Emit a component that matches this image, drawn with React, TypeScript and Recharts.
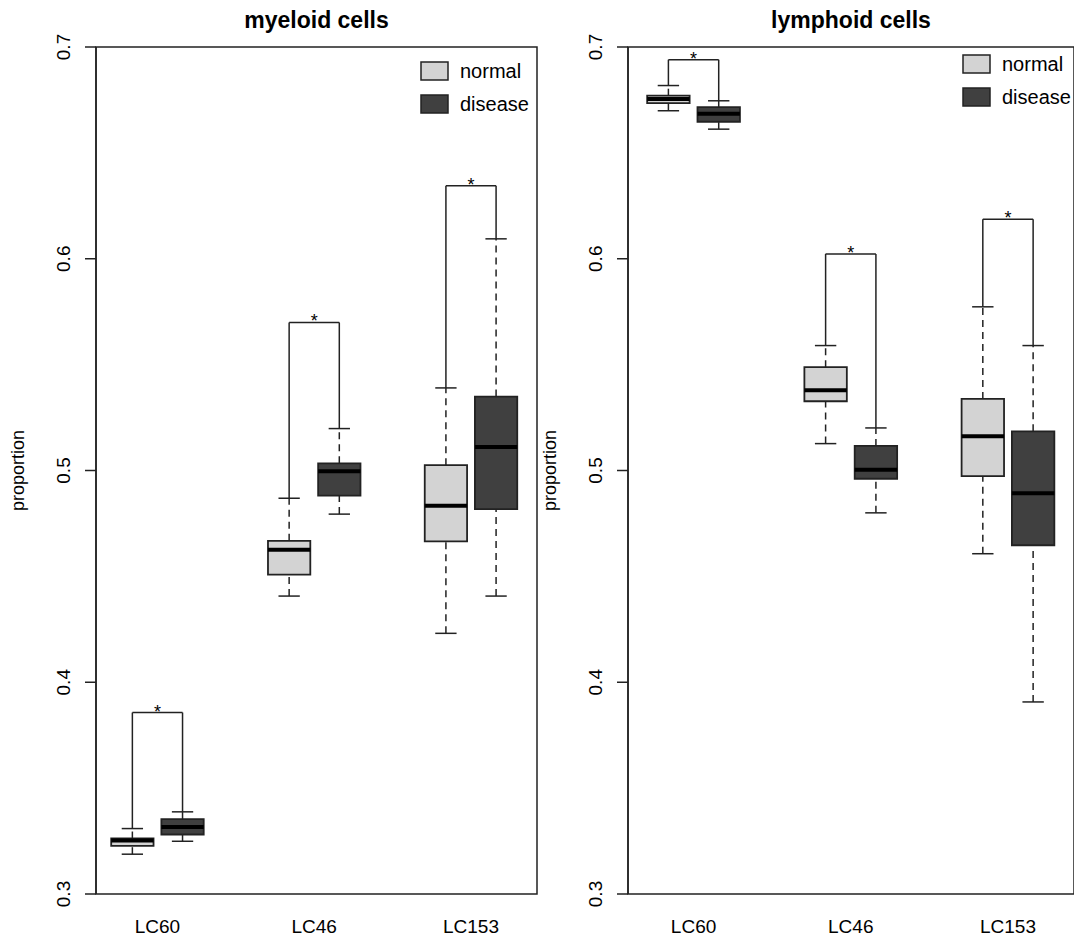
import React from "react";
import {
  ComposedChart,
  XAxis,
  YAxis,
  ReferenceArea,
  ReferenceLine,
  Scatter,
  Legend,
} from "recharts";

const FONT = "'Liberation Sans', Arial, sans-serif";

const groups = ["LC60", "LC46", "LC153"];
const conditions = ["normal", "disease"];
const conditionFills = ["#d3d3d3", "#404040"];
const yTicks = [0.3, 0.4, 0.5, 0.6, 0.7];

// each row: [lower whisker, Q1, median, Q3, upper whisker]
const myeloidNormal = [
  [0.3188, 0.3227, 0.3253, 0.3262, 0.3309],
  [0.4407, 0.4508, 0.4626, 0.4668, 0.4869],
  [0.4231, 0.4665, 0.4834, 0.5025, 0.539],
];
const myeloidDisease = [
  [0.3249, 0.3281, 0.3317, 0.3354, 0.3388],
  [0.4794, 0.4881, 0.4996, 0.5034, 0.5198],
  [0.4407, 0.4818, 0.5111, 0.5349, 0.6094],
];
const myeloidBrackets = [0.3857, 0.5699, 0.6345];

const lymphoidNormal = [
  [0.6699, 0.6735, 0.6754, 0.677, 0.6818],
  [0.5127, 0.5327, 0.5379, 0.5488, 0.559],
  [0.4607, 0.4973, 0.5162, 0.5338, 0.5773],
];
const lymphoidDisease = [
  [0.6612, 0.6647, 0.6685, 0.6716, 0.6746],
  [0.48, 0.4961, 0.5004, 0.5116, 0.5201],
  [0.3907, 0.4647, 0.4892, 0.5185, 0.559],
];
const lymphoidBrackets = [0.694, 0.6023, 0.6187];

const PAIR_OFFSET = 0.16;
const BOX_HALF = 0.135;
const CAP_HALF = 0.068;

const YTick = (p: any) => {
  const x = p.x - 13;
  return (
    <text
      x={x}
      y={p.y}
      transform={`rotate(-90 ${x} ${p.y})`}
      textAnchor="middle"
      fontSize={19}
      fontFamily={FONT}
      fill="#000"
    >
      {Number(p.payload.value).toFixed(1)}
    </text>
  );
};

const GroupTick = (p: any) => (
  <text
    x={p.x}
    y={p.y + 39}
    textAnchor="middle"
    fontSize={19}
    fontFamily={FONT}
    fill="#000"
  >
    {groups[Math.round(p.payload.value) - 1]}
  </text>
);

const LegendBox = () => (
  <svg width={130} height={60}>
    {conditions.map((c, i) => (
      <g key={c}>
        <rect
          x={1}
          y={1 + i * 33}
          width={27}
          height={18}
          fill={conditionFills[i]}
          stroke="#222"
          strokeWidth={1.5}
        />
        <text x={40} y={17 + i * 33} fontSize={20} fontFamily={FONT} fill="#000">
          {c}
        </text>
      </g>
    ))}
  </svg>
);

interface PanelProps {
  title: string;
  normal: number[][];
  disease: number[][];
  brackets: number[];
  xDomain: [number, number];
  width: number;
  yAxisWidth: number;
  marginRight: number;
  legendLeft: number;
  legendTop: number;
}

const BoxPanel = ({
  title,
  normal,
  disease,
  brackets,
  xDomain,
  width,
  yAxisWidth,
  marginRight,
  legendLeft,
  legendTop,
}: PanelProps) => {
  const boxTicks = groups.flatMap((_, i) => [i + 1 - PAIR_OFFSET, i + 1 + PAIR_OFFSET]);
  const starData = groups.map((_, i) => ({ x: i + 1, y: brackets[i] }));

  const whiskers: React.ReactNode[] = [];
  const boxes: React.ReactNode[] = [];
  const medians: React.ReactNode[] = [];

  [normal, disease].forEach((stats, k) => {
    stats.forEach((s, i) => {
      const cx = i + 1 + (k === 0 ? -PAIR_OFFSET : PAIR_OFFSET);
      const [lo, q1, med, q3, hi] = s;
      const key = `${k}-${i}`;
      whiskers.push(
        <ReferenceLine
          key={`wu${key}`}
          segment={[{ x: cx, y: q3 }, { x: cx, y: hi }]}
          stroke="#222"
          strokeWidth={1.5}
          strokeDasharray="7 5"
        />,
        <ReferenceLine
          key={`wl${key}`}
          segment={[{ x: cx, y: lo }, { x: cx, y: q1 }]}
          stroke="#222"
          strokeWidth={1.5}
          strokeDasharray="7 5"
        />,
        <ReferenceLine
          key={`cu${key}`}
          segment={[{ x: cx - CAP_HALF, y: hi }, { x: cx + CAP_HALF, y: hi }]}
          stroke="#222"
          strokeWidth={1.5}
        />,
        <ReferenceLine
          key={`cl${key}`}
          segment={[{ x: cx - CAP_HALF, y: lo }, { x: cx + CAP_HALF, y: lo }]}
          stroke="#222"
          strokeWidth={1.5}
        />,
        <ReferenceLine
          key={`bv${key}`}
          segment={[{ x: cx, y: hi }, { x: cx, y: brackets[i] }]}
          stroke="#222"
          strokeWidth={1.5}
        />
      );
      boxes.push(
        <ReferenceArea
          key={`b${key}`}
          x1={cx - BOX_HALF}
          x2={cx + BOX_HALF}
          y1={q1}
          y2={q3}
          fill={conditionFills[k]}
          fillOpacity={1}
          stroke="#222"
          strokeWidth={1.8}
        />
      );
      medians.push(
        <ReferenceLine
          key={`m${key}`}
          segment={[{ x: cx - BOX_HALF, y: med }, { x: cx + BOX_HALF, y: med }]}
          stroke="#000"
          strokeWidth={4}
        />
      );
    });
  });

  const bracketTops = groups.map((_, i) => (
    <ReferenceLine
      key={`bt${i}`}
      segment={[
        { x: i + 1 - PAIR_OFFSET, y: brackets[i] },
        { x: i + 1 + PAIR_OFFSET, y: brackets[i] },
      ]}
      stroke="#222"
      strokeWidth={1.5}
    />
  ));

  return (
    <ComposedChart
      width={width}
      height={937}
      margin={{ top: 47, right: marginRight, bottom: 0, left: 0 }}
    >
      <XAxis
        dataKey="x"
        type="number"
        domain={xDomain}
        allowDataOverflow
        ticks={boxTicks}
        tickFormatter={() => ""}
        tickSize={11}
        height={0}
        stroke="#222"
        strokeWidth={1.5}
      />
      <XAxis
        xAxisId="lab"
        dataKey="x"
        type="number"
        domain={xDomain}
        allowDataOverflow
        ticks={[1, 2, 3]}
        tick={<GroupTick />}
        tickLine={false}
        axisLine={false}
        tickSize={0}
        tickMargin={0}
        height={43}
      />
      <YAxis
        dataKey="y"
        type="number"
        domain={[0.3, 0.7]}
        allowDataOverflow
        ticks={yTicks}
        tick={<YTick />}
        tickSize={11}
        tickMargin={2}
        width={yAxisWidth}
        stroke="#222"
        strokeWidth={1.5}
        label={(props: any) => {
          const vb = props.viewBox;
          const x = vb.x + vb.width - 72;
          const y = vb.y + vb.height / 2;
          return (
            <text
              x={x}
              y={y}
              transform={`rotate(-90 ${x} ${y})`}
              textAnchor="middle"
              fontSize={18}
              fontFamily={FONT}
              fill="#000"
            >
              proportion
            </text>
          );
        }}
      />
      <ReferenceArea
        x1={xDomain[0]}
        x2={xDomain[1]}
        y1={0.3}
        y2={0.7}
        fill="none"
        stroke="#222"
        strokeWidth={1.5}
        label={(props: any) => {
          const vb = props.viewBox;
          return (
            <text
              x={vb.x + vb.width / 2}
              y={vb.y - 19}
              textAnchor="middle"
              fontSize={23}
              fontWeight="bold"
              fontFamily={FONT}
              fill="#000"
            >
              {title}
            </text>
          );
        }}
      />
      {whiskers}
      {bracketTops}
      {boxes}
      {medians}
      <Scatter
        data={starData}
        dataKey="y"
        isAnimationActive={false}
        legendType="none"
        shape={(p: any) => (
          <text
            x={p.cx}
            y={p.cy + 5}
            textAnchor="middle"
            fontSize={18}
            fontFamily={FONT}
            fill="#000"
          >
            *
          </text>
        )}
      />
      <Legend
        layout="horizontal"
        verticalAlign="middle"
        align="center"
        wrapperStyle={{ left: legendLeft, top: legendTop, width: 130, height: 60 }}
        content={() => <LegendBox />}
      />
    </ComposedChart>
  );
};

export default function App() {
  return (
    <div
      style={{
        position: "absolute",
        left: 0,
        top: 0,
        width: 1074,
        height: 937,
        background: "#fff",
        overflow: "hidden",
      }}
    >
      <div style={{ position: "absolute", left: 0, top: 0 }}>
        <BoxPanel
          title="myeloid cells"
          normal={myeloidNormal}
          disease={myeloidDisease}
          brackets={myeloidBrackets}
          xDomain={[0.608, 3.421]}
          width={540}
          yAxisWidth={96}
          marginRight={3}
          legendLeft={420}
          legendTop={61}
        />
      </div>
      <div style={{ position: "absolute", left: 540, top: 0 }}>
        <BoxPanel
          title="lymphoid cells"
          normal={lymphoidNormal}
          disease={lymphoidDisease}
          brackets={lymphoidBrackets}
          xDomain={[0.583, 3.42]}
          width={534}
          yAxisWidth={88}
          marginRight={0}
          legendLeft={422}
          legendTop={54}
        />
      </div>
    </div>
  );
}
